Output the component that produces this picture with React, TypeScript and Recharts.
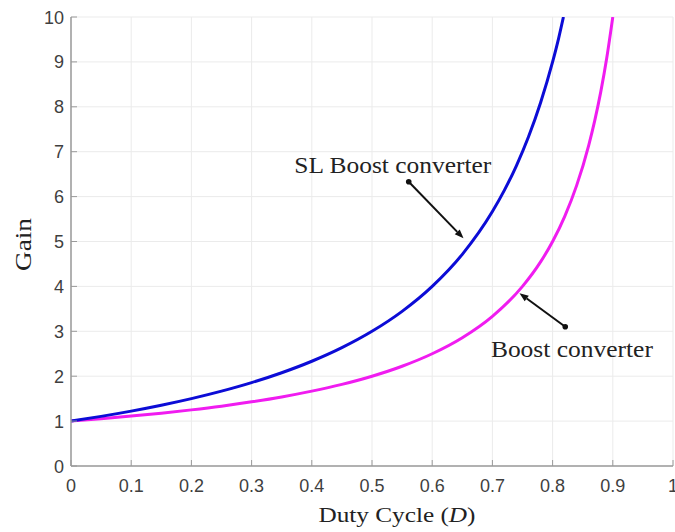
import React from "react";
import {
  CartesianGrid,
  LineChart,
  Line,
  ReferenceDot,
  ReferenceLine,
  XAxis,
  YAxis,
} from "recharts";

// Gain vs duty cycle
const slBoostGain = [
  { d: 0, g: 1 },
  { d: 0.05, g: 1.105 },
  { d: 0.1, g: 1.222 },
  { d: 0.15, g: 1.353 },
  { d: 0.2, g: 1.5 },
  { d: 0.25, g: 1.667 },
  { d: 0.3, g: 1.857 },
  { d: 0.35, g: 2.077 },
  { d: 0.4, g: 2.333 },
  { d: 0.45, g: 2.636 },
  { d: 0.5, g: 3.0 },
  { d: 0.55, g: 3.444 },
  { d: 0.6, g: 4.0 },
  { d: 0.65, g: 4.714 },
  { d: 0.7, g: 5.667 },
  { d: 0.72, g: 6.143 },
  { d: 0.74, g: 6.692 },
  { d: 0.76, g: 7.333 },
  { d: 0.78, g: 8.091 },
  { d: 0.8, g: 9.0 },
  { d: 0.81, g: 9.526 },
  { d: 0.818, g: 10 },
];

const boostGain = [
  { d: 0, g: 1 },
  { d: 0.05, g: 1.053 },
  { d: 0.1, g: 1.111 },
  { d: 0.15, g: 1.176 },
  { d: 0.2, g: 1.25 },
  { d: 0.25, g: 1.333 },
  { d: 0.3, g: 1.429 },
  { d: 0.35, g: 1.538 },
  { d: 0.4, g: 1.667 },
  { d: 0.45, g: 1.818 },
  { d: 0.5, g: 2.0 },
  { d: 0.55, g: 2.222 },
  { d: 0.6, g: 2.5 },
  { d: 0.65, g: 2.857 },
  { d: 0.7, g: 3.333 },
  { d: 0.75, g: 4.0 },
  { d: 0.78, g: 4.545 },
  { d: 0.8, g: 5.0 },
  { d: 0.82, g: 5.556 },
  { d: 0.84, g: 6.25 },
  { d: 0.86, g: 7.143 },
  { d: 0.87, g: 7.692 },
  { d: 0.88, g: 8.333 },
  { d: 0.89, g: 9.091 },
  { d: 0.9, g: 10 },
];

const xTicks = [0, 0.1, 0.2, 0.3, 0.4, 0.5, 0.6, 0.7, 0.8, 0.9, 1];
const yTicks = [0, 1, 2, 3, 4, 5, 6, 7, 8, 9, 10];

// annotation anchors (data coordinates)
const slLabel = { d: 0.371, g: 6.53, text: "SL Boost converter" };
const slArrow = [{ x: 0.561, y: 6.33 }, { x: 0.652, y: 5.07 }];
const boostLabel = { d: 0.6975, g: 2.43, text: "Boost converter" };
const boostArrow = [{ x: 0.821, y: 3.1 }, { x: 0.745, y: 3.85 }];

const AXIS = "#9a9a9a";
const TICK_TXT = "#3f3f3f";
const SANS = "'Liberation Sans', Arial, sans-serif";
const SERIF = "'Liberation Serif', 'Times New Roman', serif";

function BottomTick({ x, y, payload }: any) {
  return (
    <g>
      <line x1={x} y1={y} x2={x} y2={y - 6} stroke={AXIS} />
      <text x={x} y={y + 26} textAnchor="middle" fontSize={18} fill={TICK_TXT} fontFamily={SANS}>
        {payload.value}
      </text>
    </g>
  );
}

function LeftTick({ x, y, payload }: any) {
  return (
    <g>
      <line x1={x} y1={y} x2={x + 6} y2={y} stroke={AXIS} />
      <text x={x - 7} y={y + 6.5} textAnchor="end" fontSize={18} fill={TICK_TXT} fontFamily={SANS}>
        {payload.value}
      </text>
    </g>
  );
}

function TopTick({ x, y }: any) {
  return <line x1={x} y1={y} x2={x} y2={y + 6} stroke={AXIS} />;
}

function RightTick({ x, y }: any) {
  return <line x1={x} y1={y} x2={x - 6} y2={y} stroke={AXIS} />;
}

function XLabel({ viewBox }: any) {
  const cx = viewBox.x + viewBox.width / 2 + 25;
  return (
    <text
      x={cx}
      y={522}
      textAnchor="middle"
      fontSize={22}
      fill="#222"
      fontFamily={SERIF}
      textLength={157}
      lengthAdjust="spacingAndGlyphs"
    >
      Duty Cycle (<tspan fontStyle="italic">D</tspan>)
    </text>
  );
}

function YLabel({ viewBox }: any) {
  const cy = viewBox.y + viewBox.height / 2 + 3;
  return (
    <text
      x={0}
      y={0}
      transform={`translate(31, ${cy}) rotate(-90)`}
      textAnchor="middle"
      fontSize={23}
      fill="#222"
      fontFamily={SERIF}
      textLength={53}
      lengthAdjust="spacingAndGlyphs"
    >
      Gain
    </text>
  );
}

function Arrow(props: any) {
  const { x1, y1, x2, y2 } = props;
  const ang = Math.atan2(y2 - y1, x2 - x1);
  const len = 9;
  const hw = 3.5;
  const bx = x2 - len * Math.cos(ang);
  const by = y2 - len * Math.sin(ang);
  const px = -Math.sin(ang) * hw;
  const py = Math.cos(ang) * hw;
  return (
    <g>
      <line x1={x1} y1={y1} x2={bx} y2={by} stroke="#111" strokeWidth={2} />
      <circle cx={x1} cy={y1} r={2.8} fill="#111" />
      <polygon points={`${x2},${y2} ${bx + px},${by + py} ${bx - px},${by - py}`} fill="#111" />
    </g>
  );
}

function labelShape(text: string, width: number) {
  return (p: any) => (
    <text
      x={p.cx}
      y={p.cy}
      fontSize={22.5}
      fill="#222"
      fontFamily={SERIF}
      textLength={width}
      lengthAdjust="spacingAndGlyphs"
    >
      {text}
    </text>
  );
}

export default function App() {
  return (
    <div
      style={{
        position: "absolute",
        left: 0,
        top: 0,
        width: 675,
        height: 532,
        overflow: "hidden",
        background: "#fff",
      }}
    >
      <LineChart width={675} height={532} margin={{ top: 17, right: 2, left: 0, bottom: 0 }}>
        <CartesianGrid stroke="#ebebeb" strokeWidth={1} />
        <XAxis
          type="number"
          dataKey="d"
          domain={[0, 1]}
          ticks={xTicks}
          height={66}
          tickSize={0}
          tickMargin={0}
          tickLine={false}
          axisLine={{ stroke: AXIS, strokeWidth: 1.5 }}
          tick={<BottomTick />}
          interval={0}
          allowDataOverflow
          label={<XLabel />}
        />
        <XAxis
          xAxisId="t"
          orientation="top"
          type="number"
          dataKey="d"
          domain={[0, 1]}
          ticks={xTicks}
          height={0}
          tickSize={0}
          tickMargin={0}
          tickLine={false}
          axisLine={{ stroke: AXIS, strokeWidth: 1 }}
          tick={<TopTick />}
          interval={0}
        />
        <YAxis
          type="number"
          domain={[0, 10]}
          ticks={yTicks}
          width={71}
          tickSize={0}
          tickMargin={0}
          tickLine={false}
          axisLine={{ stroke: AXIS, strokeWidth: 1.5 }}
          tick={<LeftTick />}
          interval={0}
          allowDataOverflow
          label={<YLabel />}
        />
        <YAxis
          yAxisId="r"
          orientation="right"
          type="number"
          domain={[0, 10]}
          ticks={yTicks}
          width={0}
          tickSize={0}
          tickMargin={0}
          tickLine={false}
          axisLine={{ stroke: AXIS, strokeWidth: 1 }}
          tick={<RightTick />}
          interval={0}
        />
        <Line
          data={boostGain}
          dataKey="g"
          type="monotone"
          stroke="#f01cf0"
          strokeWidth={3}
          dot={false}
          isAnimationActive={false}
        />
        <Line
          data={slBoostGain}
          dataKey="g"
          type="monotone"
          stroke="#0c0cd6"
          strokeWidth={3}
          dot={false}
          isAnimationActive={false}
        />
        <ReferenceLine segment={slArrow} shape={Arrow} />
        <ReferenceLine segment={boostArrow} shape={Arrow} />
        <ReferenceDot x={slLabel.d} y={slLabel.g} r={0} shape={labelShape(slLabel.text, 197)} />
        <ReferenceDot x={boostLabel.d} y={boostLabel.g} r={0} shape={labelShape(boostLabel.text, 162)} />
      </LineChart>
    </div>
  );
}
